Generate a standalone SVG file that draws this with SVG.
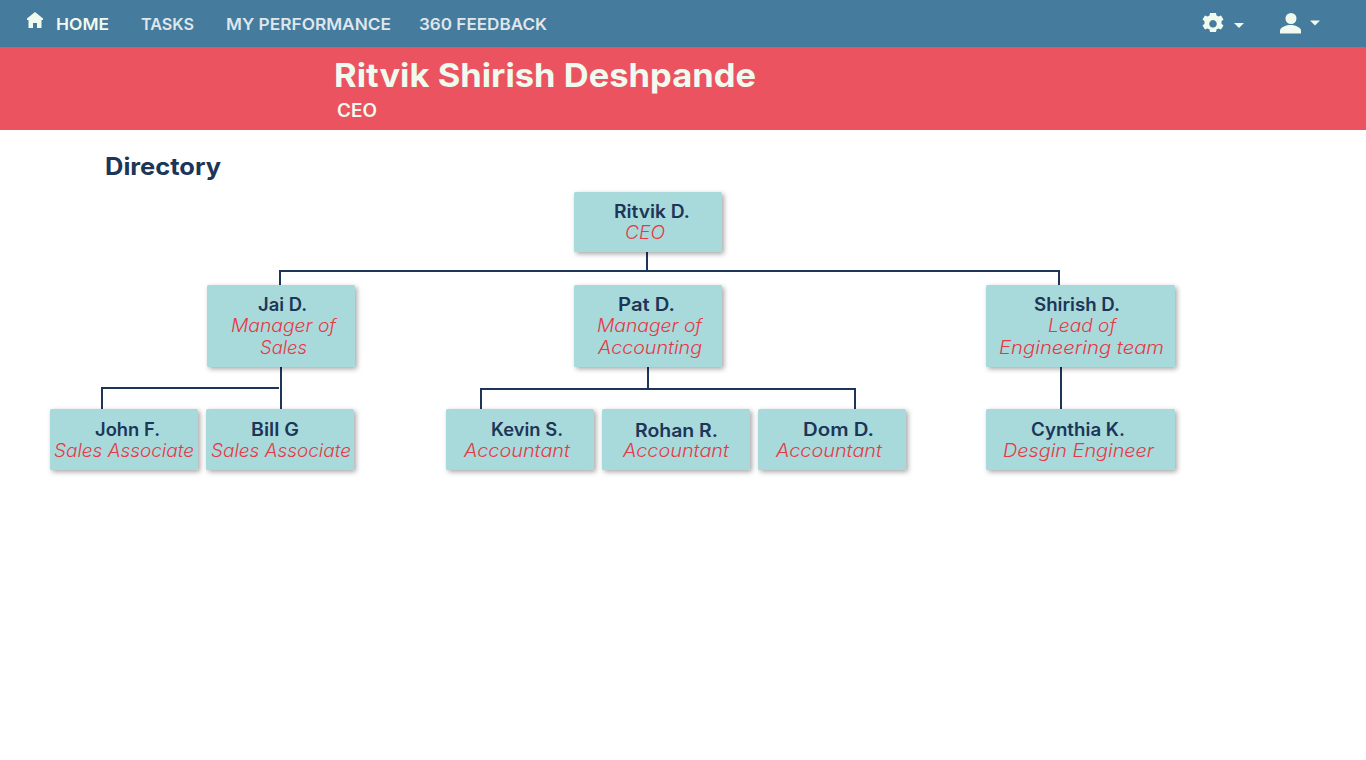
<svg xmlns="http://www.w3.org/2000/svg" width="1366" height="760" viewBox="0 0 1366 760">
<defs>
<filter id="sh" x="-10%" y="-15%" width="125%" height="140%"><feDropShadow dx="2" dy="2" stdDeviation="2.500" flood-color="#000" flood-opacity="0.35"/></filter>
</defs>
<style>
text{font-family:Inter,"Open Sans","Liberation Sans",sans-serif}
.nav{font-size:16px;font-weight:600;fill:#dfe6ec}
.nm{font-size:18px;font-weight:600;fill:#1d3557;text-anchor:start}
.rl{font-size:18px;font-style:italic;font-weight:300;fill:#e63946}
.box{fill:#a8dadc;filter:url(#sh)}
.ln{fill:none;stroke:#1d3557;stroke-width:2}
.ic{fill:#f1faee}
</style>
<rect width="1366" height="760" fill="#fff"/>
<rect id="navbar" width="1366" height="47" fill="#457b9d"/>
<rect id="banner" y="47" width="1366" height="83" fill="#ea535f"/>
<g id="nav">
<path class="ic" fill-rule="evenodd" d="M35 12l-8 6.500v1.500h1.500v8h4.500v-5h4v5h4.500v-8h1.500v-1.500z"/>
<text class="nav" x="56" y="29.500" textLength="53" lengthAdjust="spacingAndGlyphs" style="fill:#f1faee">HOME</text>
<text class="nav" x="141" y="29.500" textLength="53" lengthAdjust="spacingAndGlyphs">TASKS</text>
<text class="nav" x="226" y="29.500" textLength="165" lengthAdjust="spacingAndGlyphs">MY PERFORMANCE</text>
<text class="nav" x="419" y="30" textLength="128" lengthAdjust="spacingAndGlyphs">360 FEEDBACK</text>
<path class="ic" fill-rule="evenodd" d="M1210 13h6l.5 2.500 2 1 2.500-1 2.500 4-2 1.700v2.600l2 1.700-2.500 4-2.500-1-2 1-.5 2.500h-6l-.5-2.500-2-1-2.500 1-2.500-4 2-1.700v-2.600l-2-1.700 2.500-4 2.500 1 2-1zM1213 20a3.800 3.800 0 1 0 .01 0z"/>
<path class="ic" d="M1234 23h10l-5 5z"/>
<circle class="ic" cx="1291" cy="18.500" r="5.500"/>
<path class="ic" d="M1280 33.500v-3c0-3.500 7-5.500 10.500-5.500s10.500 2 10.500 5.500v3z"/>
<path class="ic" d="M1310 20.500h10l-5 5z"/>
</g>
<g id="header">
<text x="334" y="87" font-size="33" font-weight="700" fill="#f1faee" textLength="422" lengthAdjust="spacingAndGlyphs">Ritvik Shirish Deshpande</text>
<text x="337" y="116.500" font-size="18" font-weight="600" fill="#f1faee" textLength="40" lengthAdjust="spacingAndGlyphs">CEO</text>
</g>
<text id="title" x="105" y="175" font-size="24" font-weight="700" fill="#1d3557" textLength="116" lengthAdjust="spacingAndGlyphs">Directory</text>
<g id="connectors" class="ln">
<path class="ln" d="M647 252V271M280 285V271H1059V285"/>
<path class="ln" d="M281 367V409M279 388H102V409"/>
<path class="ln" d="M648 367V389M481 409V389H855V409"/>
<path class="ln" d="M1061 367V409"/>
</g>
<g id="n-ritvik"><rect class="box" x="574" y="192" width="148" height="60" rx="1.500"/>
<text class="nm" x="614" y="217.500" textLength="76" lengthAdjust="spacingAndGlyphs">Ritvik D.</text>
<text class="rl" x="625" y="239" textLength="40" lengthAdjust="spacingAndGlyphs">CEO</text></g>
<g id="n-jai"><rect class="box" x="207" y="285" width="148" height="82" rx="1.500"/>
<text class="nm" x="258" y="310.500" textLength="49" lengthAdjust="spacingAndGlyphs">Jai D.</text>
<text class="rl" x="231" y="332" textLength="105" lengthAdjust="spacingAndGlyphs">Manager of</text>
<text class="rl" x="260" y="354" textLength="47" lengthAdjust="spacingAndGlyphs">Sales</text></g>
<g id="n-pat"><rect class="box" x="574" y="285" width="148" height="82" rx="1.500"/>
<text class="nm" x="618" y="310.500" textLength="57" lengthAdjust="spacingAndGlyphs">Pat D.</text>
<text class="rl" x="597" y="332" textLength="105" lengthAdjust="spacingAndGlyphs">Manager of</text>
<text class="rl" x="598" y="354" textLength="104" lengthAdjust="spacingAndGlyphs">Accounting</text></g>
<g id="n-shirish"><rect class="box" x="986" y="285" width="189" height="82" rx="1.500"/>
<text class="nm" x="1034" y="310.500" textLength="86" lengthAdjust="spacingAndGlyphs">Shirish D.</text>
<text class="rl" x="1048" y="332" textLength="68" lengthAdjust="spacingAndGlyphs">Lead of</text>
<text class="rl" x="999" y="354" textLength="165" lengthAdjust="spacingAndGlyphs">Engineering team</text></g>
<g id="n-john"><rect class="box" x="50" y="409" width="148" height="61" rx="1.500"/>
<text class="nm" x="95" y="435.500" textLength="65" lengthAdjust="spacingAndGlyphs">John F.</text>
<text class="rl" x="54" y="457" textLength="140" lengthAdjust="spacingAndGlyphs">Sales Associate</text></g>
<g id="n-bill"><rect class="box" x="206" y="409" width="148" height="61" rx="1.500"/>
<text class="nm" x="251" y="435.500" textLength="48" lengthAdjust="spacingAndGlyphs">Bill G</text>
<text class="rl" x="211" y="457" textLength="140" lengthAdjust="spacingAndGlyphs">Sales Associate</text></g>
<g id="n-kevin"><rect class="box" x="446" y="409" width="148" height="61" rx="1.500"/>
<text class="nm" x="491" y="435.500" textLength="72" lengthAdjust="spacingAndGlyphs">Kevin S.</text>
<text class="rl" x="464" y="457" textLength="106" lengthAdjust="spacingAndGlyphs">Accountant</text></g>
<g id="n-rohan"><rect class="box" x="602" y="409" width="148" height="61" rx="1.500"/>
<text class="nm" x="635" y="436.500" textLength="83" lengthAdjust="spacingAndGlyphs">Rohan R.</text>
<text class="rl" x="623" y="457" textLength="106" lengthAdjust="spacingAndGlyphs">Accountant</text></g>
<g id="n-dom"><rect class="box" x="758" y="409" width="148" height="61" rx="1.500"/>
<text class="nm" x="803" y="435.500" textLength="71" lengthAdjust="spacingAndGlyphs">Dom D.</text>
<text class="rl" x="776" y="457" textLength="106" lengthAdjust="spacingAndGlyphs">Accountant</text></g>
<g id="n-cynthia"><rect class="box" x="986" y="409" width="189" height="61" rx="1.500"/>
<text class="nm" x="1031" y="435.500" textLength="94" lengthAdjust="spacingAndGlyphs">Cynthia K.</text>
<text class="rl" x="1003" y="457" textLength="151" lengthAdjust="spacingAndGlyphs">Desgin Engineer</text></g>
</svg>
